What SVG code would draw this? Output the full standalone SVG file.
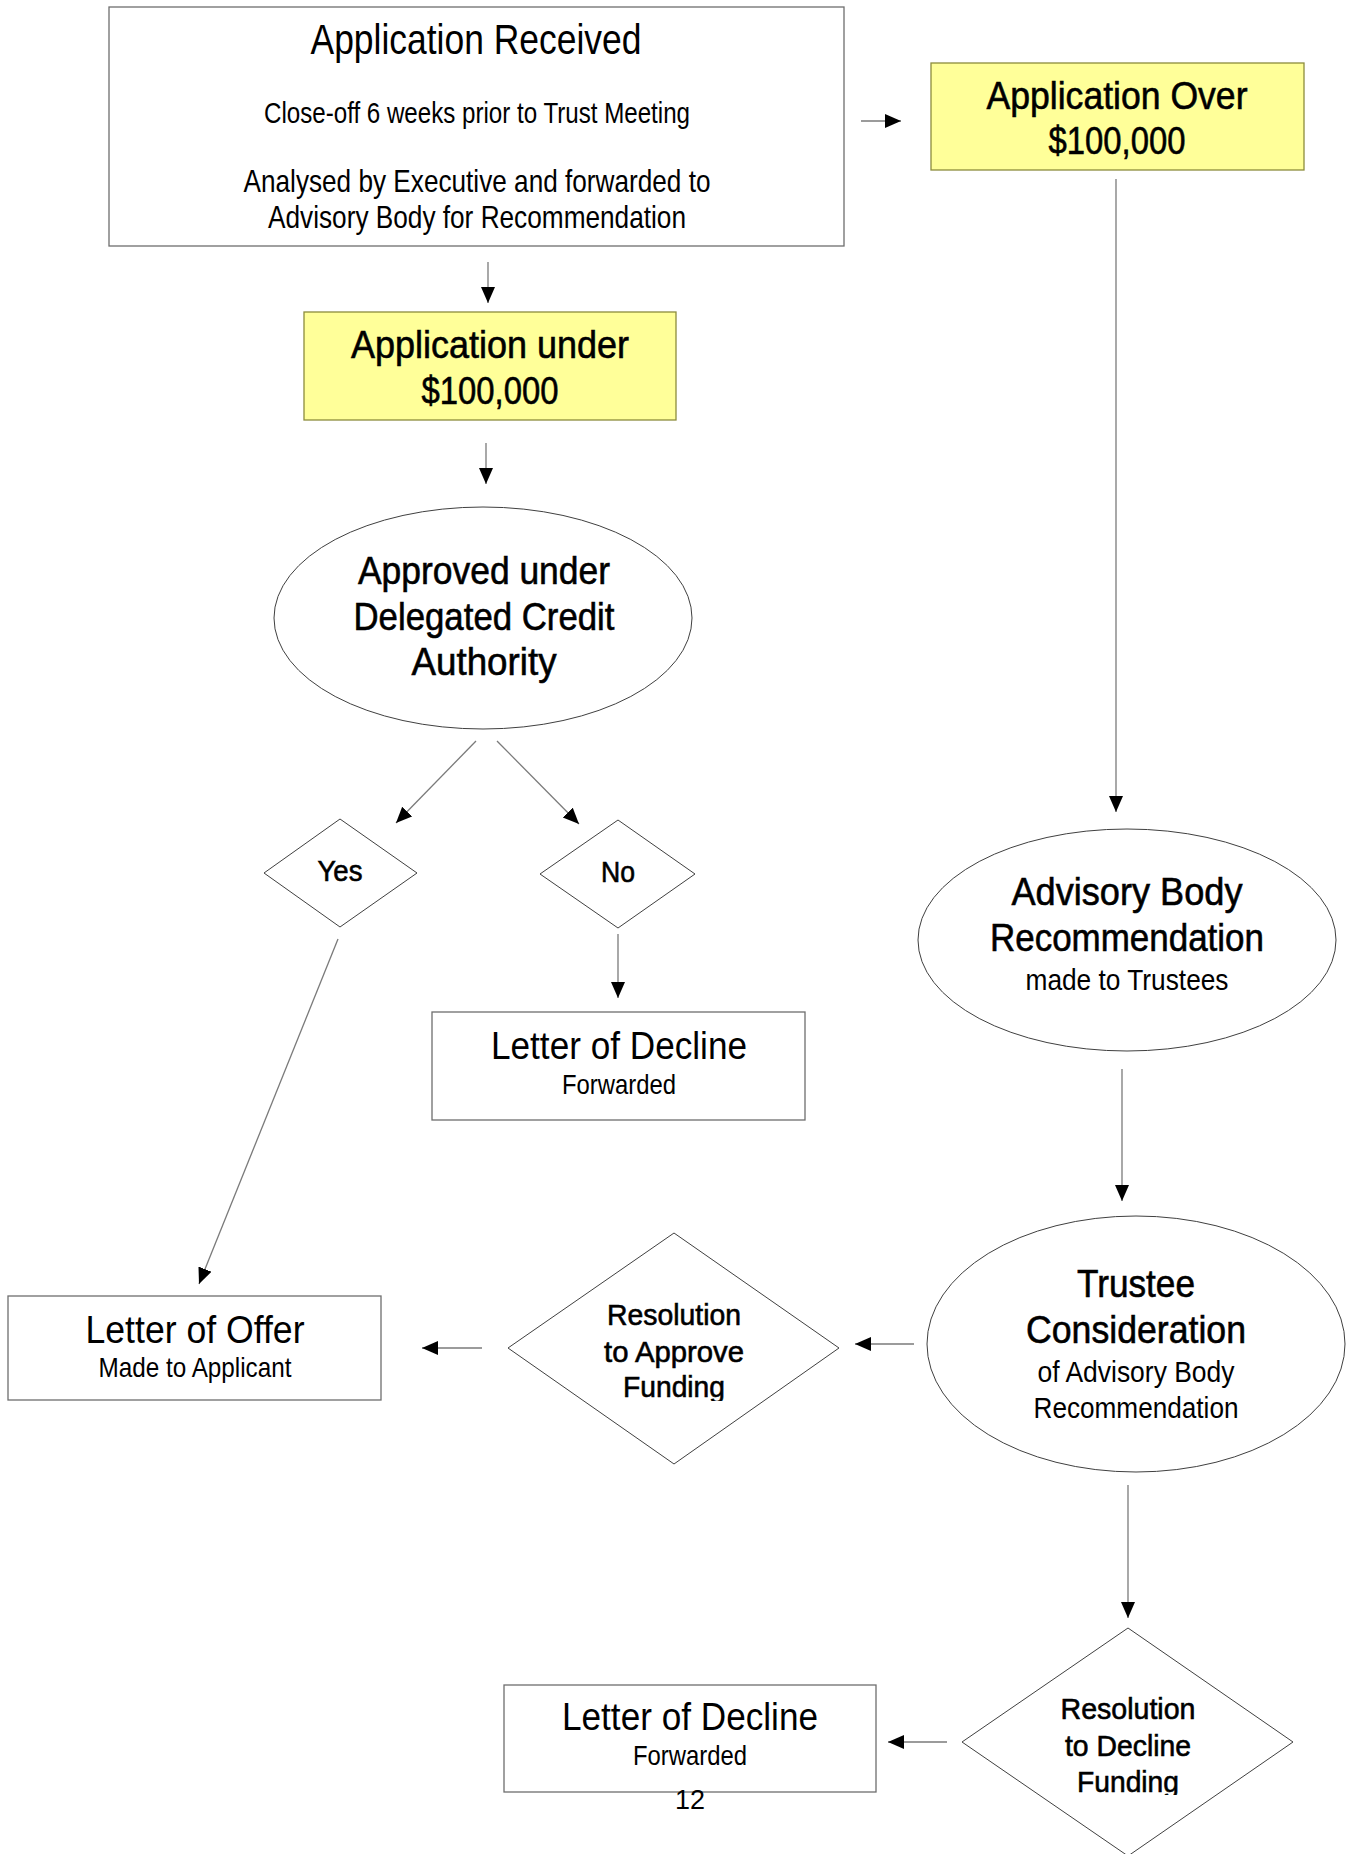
<svg xmlns="http://www.w3.org/2000/svg" width="1349" height="1854" viewBox="0 0 1349 1854">
<style>
.t{font-family:"Liberation Sans Narrow","Arial Narrow","Liberation Sans",Arial,sans-serif;fill:#000;text-anchor:middle}
.h{stroke:#000;stroke-width:0.6}
.box{fill:#fff;stroke:#6e6e6e;stroke-width:1.3}
.ybox{fill:#ffff99;stroke:#8c8c3c;stroke-width:1.3}
.shape{fill:#fff;stroke:#404040;stroke-width:1}
.conn line{stroke:#7a7a7a;stroke-width:1.3;fill:none}
</style>
<defs>
<marker id="ah" markerUnits="userSpaceOnUse" markerWidth="18" markerHeight="16" refX="16" refY="7" orient="auto">
<path d="M0,0 L16,7 L0,14 Z" fill="#000"/>
</marker>
<clipPath id="c1"><rect x="500" y="1230" width="350" height="171"/></clipPath>
<clipPath id="c2"><rect x="955" y="1620" width="350" height="175"/></clipPath>
</defs>
<rect width="1349" height="1854" fill="#fff"/>

<g id="n-received">
<rect class="box" x="109" y="7" width="735" height="239"/>
<text class="t" x="476" y="54" font-size="42" textLength="331" lengthAdjust="spacingAndGlyphs">Application Received</text>
<text class="t" x="477" y="123" font-size="29.5" textLength="426" lengthAdjust="spacingAndGlyphs">Close-off 6 weeks prior to Trust Meeting</text>
<text class="t" x="477" y="192" font-size="32" textLength="467" lengthAdjust="spacingAndGlyphs">Analysed by Executive and forwarded to</text>
<text class="t" x="477" y="228" font-size="32" textLength="418" lengthAdjust="spacingAndGlyphs">Advisory Body for Recommendation</text>
</g>

<g id="n-over">
<rect class="ybox" x="931" y="63" width="373" height="107"/>
<text class="t h" x="1117" y="109" font-size="39" textLength="261" lengthAdjust="spacingAndGlyphs">Application Over</text>
<text class="t h" x="1117" y="154" font-size="39" textLength="137" lengthAdjust="spacingAndGlyphs">$100,000</text>
</g>

<g id="n-under">
<rect class="ybox" x="304" y="312" width="372" height="108"/>
<text class="t h" x="490" y="358" font-size="39" textLength="278" lengthAdjust="spacingAndGlyphs">Application under</text>
<text class="t h" x="490" y="404" font-size="39" textLength="137" lengthAdjust="spacingAndGlyphs">$100,000</text>
</g>

<g id="n-delegated">
<ellipse class="shape" cx="483" cy="618" rx="209" ry="111"/>
<text class="t h" x="484" y="584" font-size="39" textLength="252" lengthAdjust="spacingAndGlyphs">Approved under</text>
<text class="t h" x="484" y="630" font-size="39" textLength="261" lengthAdjust="spacingAndGlyphs">Delegated Credit</text>
<text class="t h" x="484" y="675" font-size="39" textLength="145" lengthAdjust="spacingAndGlyphs">Authority</text>
</g>

<g id="n-yes">
<polygon class="shape" points="340,819 417,873 340,927 264,873"/>
<text class="t h" x="340" y="881" font-size="29" textLength="45" lengthAdjust="spacingAndGlyphs">Yes</text>
</g>

<g id="n-no">
<polygon class="shape" points="618,820 695,874 618,928 540,874"/>
<text class="t h" x="618" y="882" font-size="29" textLength="34" lengthAdjust="spacingAndGlyphs">No</text>
</g>

<g id="n-decline1">
<rect class="box" x="432" y="1012" width="373" height="108"/>
<text class="t" x="619" y="1059" font-size="39" textLength="256" lengthAdjust="spacingAndGlyphs">Letter of Decline</text>
<text class="t" x="619" y="1094" font-size="28" textLength="114" lengthAdjust="spacingAndGlyphs">Forwarded</text>
</g>

<g id="n-advisory">
<ellipse class="shape" cx="1127" cy="940" rx="209" ry="111"/>
<text class="t h" x="1127" y="905" font-size="39" textLength="231" lengthAdjust="spacingAndGlyphs">Advisory Body</text>
<text class="t h" x="1127" y="951" font-size="39" textLength="274" lengthAdjust="spacingAndGlyphs">Recommendation</text>
<text class="t" x="1127" y="990" font-size="30" textLength="203" lengthAdjust="spacingAndGlyphs">made to Trustees</text>
</g>

<g id="n-trustee">
<ellipse class="shape" cx="1136" cy="1344" rx="209" ry="128"/>
<text class="t h" x="1136" y="1297" font-size="39" textLength="118" lengthAdjust="spacingAndGlyphs">Trustee</text>
<text class="t h" x="1136" y="1343" font-size="39" textLength="220" lengthAdjust="spacingAndGlyphs">Consideration</text>
<text class="t" x="1136" y="1382" font-size="30" textLength="197" lengthAdjust="spacingAndGlyphs">of Advisory Body</text>
<text class="t" x="1136" y="1418" font-size="30" textLength="205" lengthAdjust="spacingAndGlyphs">Recommendation</text>
</g>

<g id="n-resapprove">
<polygon class="shape" points="674,1233 839,1348 674,1464 508,1348"/>
<g clip-path="url(#c1)">
<text class="t h" x="674" y="1325" font-size="30" textLength="134" lengthAdjust="spacingAndGlyphs">Resolution</text>
<text class="t h" x="674" y="1362" font-size="30" textLength="140" lengthAdjust="spacingAndGlyphs">to Approve</text>
<text class="t h" x="674" y="1397" font-size="30" textLength="102" lengthAdjust="spacingAndGlyphs">Funding</text>
</g>
</g>

<g id="n-offer">
<rect class="box" x="8" y="1296" width="373" height="104"/>
<text class="t" x="195" y="1343" font-size="39" textLength="219" lengthAdjust="spacingAndGlyphs">Letter of Offer</text>
<text class="t" x="195" y="1377" font-size="28" textLength="193" lengthAdjust="spacingAndGlyphs">Made to Applicant</text>
</g>

<g id="n-resdecline">
<polygon class="shape" points="1128,1628 1293,1742 1128,1856 962,1742"/>
<g clip-path="url(#c2)">
<text class="t h" x="1128" y="1719" font-size="30" textLength="135" lengthAdjust="spacingAndGlyphs">Resolution</text>
<text class="t h" x="1128" y="1756" font-size="30" textLength="126" lengthAdjust="spacingAndGlyphs">to Decline</text>
<text class="t h" x="1128" y="1792" font-size="30" textLength="102" lengthAdjust="spacingAndGlyphs">Funding</text>
</g>
</g>

<g id="n-decline2">
<rect class="box" x="504" y="1685" width="372" height="107"/>
<text class="t" x="690" y="1730" font-size="39" textLength="256" lengthAdjust="spacingAndGlyphs">Letter of Decline</text>
<text class="t" x="690" y="1765" font-size="28" textLength="114" lengthAdjust="spacingAndGlyphs">Forwarded</text>
</g>

<g id="connectors" class="conn">
<line x1="861" y1="121" x2="901" y2="121" marker-end="url(#ah)"/>
<line x1="488" y1="262" x2="488" y2="303" marker-end="url(#ah)"/>
<line x1="486" y1="443" x2="486" y2="484" marker-end="url(#ah)"/>
<line x1="476" y1="741" x2="396" y2="823" marker-end="url(#ah)"/>
<line x1="497" y1="741" x2="579" y2="824" marker-end="url(#ah)"/>
<line x1="618" y1="934" x2="618" y2="998" marker-end="url(#ah)"/>
<line x1="338" y1="939" x2="199" y2="1284" marker-end="url(#ah)"/>
<line x1="1116" y1="179" x2="1116" y2="812" marker-end="url(#ah)"/>
<line x1="1122" y1="1069" x2="1122" y2="1201" marker-end="url(#ah)"/>
<line x1="914" y1="1344" x2="855" y2="1344" marker-end="url(#ah)"/>
<line x1="482" y1="1348" x2="422" y2="1348" marker-end="url(#ah)"/>
<line x1="1128" y1="1485" x2="1128" y2="1618" marker-end="url(#ah)"/>
<line x1="947" y1="1742" x2="888" y2="1742" marker-end="url(#ah)"/>
</g>

<text class="t" x="690" y="1809" font-size="28" textLength="30" lengthAdjust="spacingAndGlyphs">12</text>
</svg>
